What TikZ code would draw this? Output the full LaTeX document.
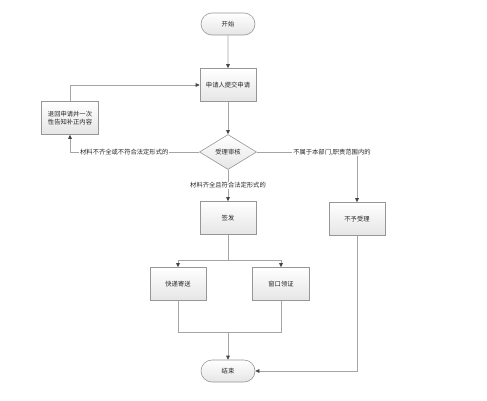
\documentclass[tikz,border=0pt]{standalone}
\usepackage{fontspec}
\newfontfamily\cjk{Noto Sans CJK SC}
\usetikzlibrary{shapes.geometric,shapes.misc,arrows.meta,shadings}
\definecolor{edgegray}{RGB}{150,150,150}
\definecolor{linegray}{RGB}{165,165,165}
\definecolor{tipgray}{RGB}{70,70,70}
\tikzset{
  x=1pt,y=-1pt,
  base/.style={draw=edgegray,line width=0.6pt,top color=white,bottom color=black!10,
    font=\cjk\fontsize{6.3}{7.5}\selectfont,text=black!85,align=center,inner sep=1pt},
  procbox/.style={base,rectangle,minimum width=56pt,minimum height=33pt},
  termbox/.style={base,rounded rectangle,minimum width=56pt,minimum height=22pt},
  decbox/.style={base,diamond,aspect=1.6,minimum width=57pt,minimum height=35pt,inner sep=0pt},
  conn/.style={draw=linegray,line width=0.6pt,-{Triangle[length=4pt,width=3.6pt,fill=tipgray,color=tipgray]}},
  plain/.style={draw=linegray,line width=0.6pt},
  lbl/.style={font=\cjk\fontsize{6.3}{7.5}\selectfont,text=black!85,fill=white,inner sep=0.8pt}
}
\begin{document}
\begin{tikzpicture}
\useasboundingbox[fill=white] (0,0) rectangle (487,400);
\node[termbox] (start) at (228,24) {开始};
\node[procbox] (submit) at (228,85) {申请人提交申请};
\node[procbox,minimum width=57pt] (back) at (70,118) {退回申请并一次\\性告知补正内容};
\node[decbox] (check) at (228,152) {受理审核};
\node[procbox] (issue) at (228,218) {签发};
\node[procbox] (reject) at (357,219) {不予受理};
\node[procbox] (mail) at (178,284) {快递寄送};
\node[procbox,minimum width=57pt] (window) at (281,284) {窗口领证};
\node[termbox] (end) at (228,371) {结束};

\coordinate (split) at (228,260);
\coordinate (join) at (228,332);

\draw[conn] (start) -- (submit);
\draw[conn] (submit) -- (check);
\draw[conn] (back.north) |- (submit.west);
\draw[conn] (check.west) -| node[lbl,pos=0.29] {材料不齐全或不符合法定形式的} (back.south);
\draw[conn] (check.east) -| node[lbl,pos=0.375] {不属于本部门,职责范围内的} (reject.north);
\draw[conn] (check.south) -- node[lbl,pos=0.5] {材料齐全且符合法定形式的} (issue.north);
\draw[plain] (issue.south) -- (split);
\draw[conn] (split) -| (mail.north);
\draw[conn] (split) -| (window.north);
\draw[plain] (mail.south) |- (join);
\draw[plain] (window.south) |- (join);
\draw[conn] (join) -- (end.north);
\draw[conn] (reject.south) |- (end.east);
\end{tikzpicture}
\end{document}
